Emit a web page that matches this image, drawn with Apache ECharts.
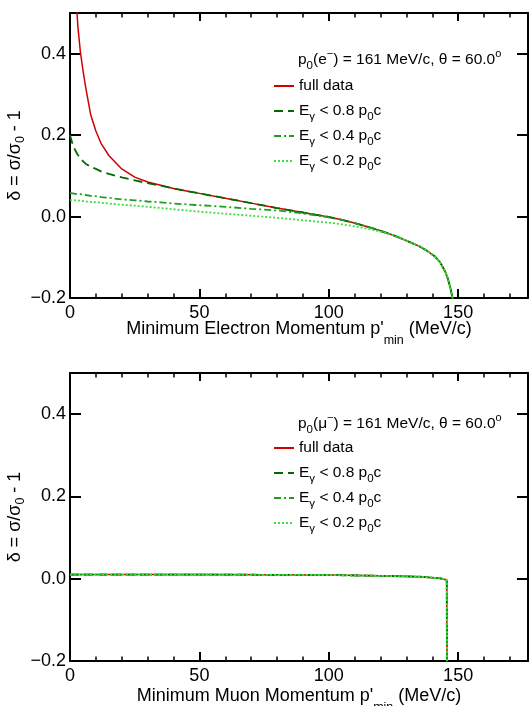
<!DOCTYPE html>
<html>
<head>
<meta charset="utf-8">
<title>radiative correction vs minimum momentum</title>
<script src="https://cdn.jsdelivr.net/npm/echarts@6/dist/echarts.min.js"></script>
<style>
html, body { margin: 0; padding: 0; background: #fff; }
#chart { width: 529px; height: 706px; }
</style>
</head>
<body>
<div id="chart"></div>
<script>
// ---- top panel: electrons, p0 = 161 MeV/c ----
const pTop = [0, 1, 2, 3, 4, 5, 6, 8, 10, 12, 15, 20, 25, 30, 35, 40, 45, 50, 60, 70, 80, 90, 100,
  105, 110, 115, 120, 125, 130, 135, 138, 141, 143, 145, 146, 147, 148, 149]
const eFull = [1.40, 0.85, 0.58, 0.47, 0.405, 0.36, 0.32, 0.25, 0.21, 0.18, 0.15, 0.117, 0.097, 0.085, 0.077, 0.069, 0.063, 0.057, 0.045, 0.033, 0.021, 0.010, -0.001,
  -0.008, -0.016, -0.025, -0.035, -0.046, -0.059, -0.073, -0.084, -0.098, -0.112, -0.135, -0.152, -0.175, -0.205, -0.26]
const eCut08 = [0.200, 0.178, 0.163, 0.152, 0.143, 0.136, 0.130, 0.122, 0.117, 0.111, 0.105, 0.096, 0.089, 0.082, 0.076, 0.069, 0.063, 0.057, 0.045, 0.033, 0.021, 0.010, -0.001,
  -0.008, -0.016, -0.025, -0.035, -0.046, -0.059, -0.073, -0.084, -0.098, -0.112, -0.135, -0.152, -0.175, -0.205, -0.26]
const eCut04 = [0.058, 0.057, 0.056, 0.055, 0.055, 0.054, 0.053, 0.051, 0.050, 0.048, 0.046, 0.042, 0.040, 0.037, 0.035, 0.032, 0.030, 0.028, 0.024, 0.019, 0.015, 0.008, -0.002,
  -0.008, -0.016, -0.025, -0.035, -0.046, -0.059, -0.073, -0.084, -0.098, -0.112, -0.135, -0.152, -0.175, -0.205, -0.26]
const eCut02 = [0.041, 0.040, 0.040, 0.039, 0.039, 0.038, 0.037, 0.036, 0.035, 0.034, 0.032, 0.029, 0.027, 0.024, 0.021, 0.018, 0.015, 0.012, 0.007, 0.002, -0.003, -0.009, -0.015,
  -0.019, -0.024, -0.030, -0.037, -0.046, -0.059, -0.073, -0.084, -0.098, -0.112, -0.135, -0.152, -0.175, -0.205, -0.26]

// ---- bottom panel: muons, all four curves lie on top of each other ----
const pBottom = [0, 50, 100, 120, 135, 143, 145.6, 145.7]
const muDelta = [0.010, 0.010, 0.009, 0.007, 0.005, 0.001, -0.003, -0.3]

const xTicks = { min: 0, max: 177, major: 50, minor: 10 }
const yTicks = { min: -0.2, max: 0.5, step: 0.2 }

const FONT = '"Liberation Sans", Arial, Helvetica, sans-serif'
const BLACK = '#000'
const COLORS = { full: '#d00000', c08: '#006b00', c04: '#1f9e1f', c02: '#3fdc3f' }

const NAMES = ['full data', 'Eγ < 0.8 p0c', 'Eγ < 0.4 p0c', 'Eγ < 0.2 p0c']
const legendLabels = {
  'full data': 'full data',
  'Eγ < 0.8 p0c': 'E{sub|γ} < 0.8 p{sub|0}c',
  'Eγ < 0.4 p0c': 'E{sub|γ} < 0.4 p{sub|0}c',
  'Eγ < 0.2 p0c': 'E{sub|γ} < 0.2 p{sub|0}c'
}

const richSmall = {
  sub: { fontSize: 11.5, lineHeight: 8, verticalAlign: 'bottom', fontFamily: FONT, color: BLACK },
  sup: { fontSize: 11, lineHeight: 14, verticalAlign: 'top', fontFamily: FONT, color: BLACK }
}

function xAxes (grid, name, nameGap) {
  const base = { gridIndex: grid, type: 'value', min: xTicks.min, max: xTicks.max, splitLine: { show: false } }
  const line = { onZero: false, lineStyle: { color: BLACK, width: 2 } }
  return [
    Object.assign({}, base, {
      position: 'bottom',
      interval: xTicks.major,
      axisLine: line,
      axisTick: { inside: true, length: 9, lineStyle: { color: BLACK, width: 2 } },
      axisLabel: { fontSize: 18, color: BLACK, fontFamily: FONT, margin: 6, showMaxLabel: false },
      name: name,
      nameLocation: 'middle',
      nameGap: nameGap,
      nameMoveOverlap: false,
      nameTextStyle: {
        fontSize: 18, lineHeight: 36, color: BLACK, fontFamily: FONT,
        rich: { sub: { fontSize: 12.5, lineHeight: 2, verticalAlign: 'bottom', fontFamily: FONT, color: BLACK } }
      }
    }),
    Object.assign({}, base, {
      position: 'bottom',
      interval: xTicks.minor,
      axisLine: { show: false, onZero: false },
      axisTick: { inside: true, length: 4.5, lineStyle: { color: BLACK, width: 1.5 } },
      axisLabel: { show: false }
    }),
    Object.assign({}, base, {
      position: 'top',
      interval: xTicks.major,
      axisLine: line,
      axisTick: { inside: true, length: 8, lineStyle: { color: BLACK, width: 2 } },
      axisLabel: { show: false }
    }),
    Object.assign({}, base, {
      position: 'top',
      interval: xTicks.minor,
      axisLine: { show: false, onZero: false },
      axisTick: { inside: true, length: 4.5, lineStyle: { color: BLACK, width: 1.5 } },
      axisLabel: { show: false }
    })
  ]
}

function yAxes (grid) {
  const base = {
    gridIndex: grid, type: 'value', min: yTicks.min, max: yTicks.max, interval: yTicks.step,
    splitLine: { show: false },
    axisLine: { onZero: false, lineStyle: { color: BLACK, width: 2 } },
    axisTick: { inside: true, length: 11, lineStyle: { color: BLACK, width: 2 } }
  }
  return [
    Object.assign({}, base, {
      position: 'left',
      axisLabel: {
        fontSize: 18, color: BLACK, fontFamily: FONT, margin: 4, showMaxLabel: false,
        formatter: v => (Math.abs(v) < 1e-9 ? '0.0' : (v < 0 ? '\u2212' + (-v).toFixed(1) : v.toFixed(1)))
      },
      name: 'δ = σ/σ{sub|0} - 1',
      nameLocation: 'middle',
      nameGap: 43,
      nameMoveOverlap: false,
      nameTextStyle: {
        fontSize: 18, lineHeight: 24, color: BLACK, fontFamily: FONT,
        rich: { sub: { fontSize: 12.5, lineHeight: 8, verticalAlign: 'bottom', fontFamily: FONT, color: BLACK } }
      }
    }),
    Object.assign({}, base, { position: 'right', axisLabel: { show: false } })
  ]
}

function curve (name, panel, xs, ys, color, width, dash) {
  return {
    type: 'line',
    name: name,
    xAxisIndex: panel * 4,
    yAxisIndex: panel * 2,
    data: xs.map((x, i) => [x, ys[i]]),
    symbol: 'none',
    showSymbol: false,
    clip: true,
    animation: false,
    emphasis: { disabled: true },
    itemStyle: { color: color },
    lineStyle: { color: color, width: width, type: dash }
  }
}

function legendAt (top) {
  return {
    orient: 'vertical',
    left: 273,
    top: top,
    padding: 0,
    itemWidth: 20,
    itemHeight: 14,
    itemGap: 1,
    selectedMode: false,
    data: NAMES,
    itemStyle: { opacity: 0 },
    formatter: name => legendLabels[name],
    textStyle: { fontSize: 15.5, lineHeight: 24, color: BLACK, fontFamily: FONT, rich: richSmall }
  }
}

function header (text, top) {
  return {
    text: text,
    left: 298,
    top: top,
    padding: 0,
    textStyle: { fontSize: 15.5, lineHeight: 24, fontWeight: 'normal', color: BLACK, fontFamily: FONT, rich: richSmall }
  }
}

const chart = echarts.init(document.getElementById('chart'), null, { renderer: 'canvas' })
chart.setOption({
  backgroundColor: '#fff',
  animation: false,
  title: [
    header('p{sub|0}(e{sup|−}) = 161 MeV/c, θ = 60.0{sup|o}', 48),
    header('p{sub|0}(μ{sup|−}) = 161 MeV/c, θ = 60.0{sup|o}', 412)
  ],
  legend: [legendAt(74), legendAt(436)],
  grid: [
    { left: 70, top: 13, width: 458, height: 285, containLabel: false, outerBoundsMode: 'none' },
    { left: 70, top: 373, width: 458, height: 288, containLabel: false, outerBoundsMode: 'none' }
  ],
  xAxis: [
    ...xAxes(0, "Minimum Electron Momentum p'{sub|min} (MeV/c)", 13),
    ...xAxes(1, "Minimum Muon Momentum p'{sub|min} (MeV/c)", 17)
  ],
  yAxis: [...yAxes(0), ...yAxes(1)],
  series: [
    curve(NAMES[0], 0, pTop, eFull, COLORS.full, 1.5, 'solid'),
    curve(NAMES[1], 0, pTop, eCut08, COLORS.c08, 1.8, [9, 5]),
    curve(NAMES[2], 0, pTop, eCut04, COLORS.c04, 1.8, [7, 3, 2, 3]),
    curve(NAMES[3], 0, pTop, eCut02, COLORS.c02, 1.8, [2, 2]),
    curve(NAMES[0], 1, pBottom, muDelta, COLORS.full, 1.5, 'solid'),
    curve(NAMES[1], 1, pBottom, muDelta, COLORS.c08, 1.8, [9, 5]),
    curve(NAMES[2], 1, pBottom, muDelta, COLORS.c04, 1.8, [7, 3, 2, 3]),
    curve(NAMES[3], 1, pBottom, muDelta, COLORS.c02, 1.8, [2, 2])
  ]
})
</script>
</body>
</html>
